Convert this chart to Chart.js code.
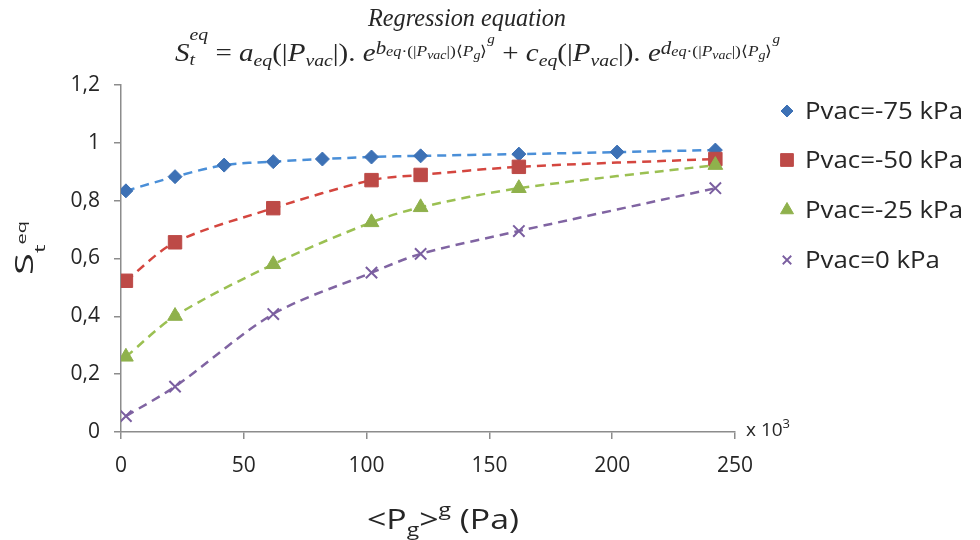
<!DOCTYPE html>
<html lang="en">
<head>
    <meta charset="UTF-8">
    <title>Saturation vs gas pressure</title>
    <script src="https://cdn.jsdelivr.net/npm/chart.js"></script>
    <style>
        html, body { margin: 0; padding: 0; background: #fff; }
        canvas { display: block; }
    </style>
</head>
<body>
<canvas id="myChart" width="980" height="540"></canvas>

<script>
    // <Pg>^g in kPa (x 10^3 Pa) and equilibrium saturation values
    const pgFull = [2, 22, 42, 62, 82, 102, 122, 162, 202, 242];
    const pgPart = [2, 22, 62, 102, 122, 162, 242];

    const st75 = [0.834, 0.883, 0.923, 0.935, 0.944, 0.951, 0.955, 0.961, 0.968, 0.975];
    const st50 = [0.523, 0.656, 0.774, 0.871, 0.889, 0.917, 0.944];
    const st25 = [0.260, 0.401, 0.580, 0.725, 0.777, 0.843, 0.923];
    const st0  = [0.055, 0.157, 0.408, 0.551, 0.616, 0.695, 0.843];

    const seriesNames = ['Pvac=-75 kPa', 'Pvac=-50 kPa', 'Pvac=-25 kPa', 'Pvac=0 kPa'];
    const xTicks = [0, 50, 100, 150, 200, 250];
    const yTicks = [0, 0.2, 0.4, 0.6, 0.8, 1, 1.2];

    const FONT = '"Open Sans", sans-serif';
    const MATH = '"Liberation Serif", serif';
    const TEXT = '#262626';
    const AXIS = '#8c8c8c';

    const styles = [
        { marker: '#3d71b5', line: '#4a8fd8', pointStyle: 'rectRot', radius: 7, lr: 6 },
        { marker: '#bd4a47', line: '#d4463f', pointStyle: 'rect', radius: 9.5, lr: 9 },
        { marker: '#8fb14c', line: '#9bc052', pointStyle: 'triangle', radius: 8.5, lr: 7.5 },
        { marker: '#7a5ea0', line: '#8064a2', pointStyle: 'crossRot', radius: 8, lr: 6 }
    ];

    function pts(xs, ys) {
        return xs.map(function (x, i) { return { x: x, y: ys[i] }; });
    }

    const seriesData = [pts(pgFull, st75), pts(pgPart, st50), pts(pgPart, st25), pts(pgPart, st0)];

    const datasets = seriesData.map(function (d, i) {
        const s = styles[i];
        return {
            label: seriesNames[i],
            data: d,
            showLine: true,
            tension: 0.3,
            borderColor: s.line,
            borderWidth: 2.5,
            borderDash: [9, 6],
            pointStyle: s.pointStyle,
            pointRadius: s.radius,
            pointBackgroundColor: s.marker,
            pointBorderColor: s.marker,
            pointBorderWidth: s.pointStyle === 'crossRot' ? 2 : 1,
            order: 4 - i
        };
    });

    // text runs with sub/superscripts; "stack" puts a run over the previous one
    function runFont(r) {
        return (r.it ? 'italic ' : '') + r.s + 'px ' + r.f;
    }

    function richWidth(ctx, runs) {
        let pos = 0, prevStart = 0;
        runs.forEach(function (r) {
            ctx.font = runFont(r);
            const start = r.stack ? prevStart : pos;
            const end = start + ctx.measureText(r.t).width;
            pos = r.stack ? Math.max(pos, end) : end;
            prevStart = start;
        });
        return pos;
    }

    function drawRich(ctx, runs, x, y) {
        let pos = 0, prevStart = 0;
        ctx.textBaseline = 'alphabetic';
        ctx.textAlign = 'left';
        runs.forEach(function (r) {
            ctx.font = runFont(r);
            const start = r.stack ? prevStart : pos;
            ctx.fillText(r.t, x + start, y + (r.dy || 0));
            const end = start + ctx.measureText(r.t).width;
            pos = r.stack ? Math.max(pos, end) : end;
            prevStart = start;
        });
    }

    // draws runs from x0 to x1, stretched horizontally to that span
    function drawFitted(ctx, runs, x0, x1, y) {
        const w = richWidth(ctx, runs);
        ctx.save();
        ctx.translate(x0, y);
        ctx.scale((x1 - x0) / w, 1);
        drawRich(ctx, runs, 0, 0);
        ctx.restore();
    }

    function m(t, s, dy, it, stack) {
        return { t: t, s: s, dy: dy, it: it !== false, f: MATH, stack: !!stack };
    }

    // exponent b_eq.(|Pvac|)<Pg>^g  (letter is b or d)
    function exponent(letter) {
        return [
            m(letter, 18, -7),
            m('eq', 14, -5),
            m('·(|', 15, -5, false),
            m('P', 15, -5),
            m('vac', 12, -2),
            m('|)⟨', 15, -5, false),
            m('P', 15, -5),
            m('g', 12, -2),
            m('⟩', 15, -5, false),
            m('g', 13, -18)
        ];
    }

    function factor(letter) {
        return [m(letter, 25, 0), m('eq', 17, 5), m('(|', 25, 0, false), m('P', 25, 0), m('vac', 17, 5),
                m('|). ', 25, 0, false), m('e', 25, 0)];
    }

    const equation = [].concat(
        [m('S', 25, 0), m('t', 17, 4), m('eq', 17, -21, true, true), m(' = ', 25, 0, false)],
        factor('a'),
        exponent('b'),
        [m(' + ', 25, 0, false)],
        factor('c'),
        exponent('d')
    );

    const decorations = {
        id: 'decorations',
        afterDraw: function (chart) {
            const ctx = chart.ctx;
            const area = chart.chartArea;
            ctx.save();
            ctx.fillStyle = TEXT;

            // heading and regression formula
            drawFitted(ctx, [m('Regression equation', 26, 0)], 368, 566, 26);
            drawFitted(ctx, equation, 175, 780, 61);

            // y axis title S_t^eq, rotated
            const yTitle = [
                { t: 'S', s: 40, f: FONT },
                { t: 't', s: 24, dy: 19, f: FONT },
                { t: 'eq', s: 20, dy: -11, f: FONT }
            ];
            ctx.save();
            ctx.translate(33, 275);
            ctx.rotate(-Math.PI / 2);
            ctx.scale(1, 0.63);
            drawRich(ctx, yTitle, 0, 0);
            ctx.restore();

            // x axis title <Pg>^g (Pa)
            drawFitted(ctx, [
                { t: '<P', s: 28, f: FONT },
                { t: 'g', s: 19, dy: 7, f: FONT },
                { t: '>', s: 28, f: FONT },
                { t: 'g', s: 19, dy: -13, f: FONT },
                { t: ' (Pa)', s: 28, f: FONT }
            ], 367, 519, 529);

            // axis multiplier
            drawRich(ctx, [
                { t: 'x 10', s: 19, f: FONT },
                { t: '3', s: 13, dy: -8, f: FONT }
            ], area.right + 11, area.bottom + 4);

            // legend
            const rowY = [111, 160, 210, 260];
            ctx.font = '24px ' + FONT;
            const legScale = 158 / ctx.measureText(seriesNames[0]).width;
            seriesNames.forEach(function (name, i) {
                const s = styles[i];
                ctx.fillStyle = s.marker;
                ctx.strokeStyle = s.marker;
                ctx.lineWidth = s.pointStyle === 'crossRot' ? 1.8 : 1;
                Chart.helpers.drawPoint(ctx, { pointStyle: s.pointStyle, radius: s.lr, rotation: 0, borderWidth: ctx.lineWidth }, 787, rowY[i]);
                ctx.fillStyle = TEXT;
                ctx.save();
                ctx.translate(805, rowY[i] + 1);
                ctx.scale(legScale, 1);
                ctx.font = '24px ' + FONT;
                ctx.textAlign = 'left';
                ctx.textBaseline = 'middle';
                ctx.fillText(name, 0, 0);
                ctx.restore();
            });
            ctx.restore();
        }
    };

    new Chart(document.getElementById('myChart'), {
        type: 'scatter',
        data: { datasets: datasets },
        options: {
            responsive: false,
            animation: false,
            layout: { padding: { left: 0, right: 245, top: 85, bottom: 0 } },
            plugins: {
                legend: { display: false },
                title: { display: false },
                tooltip: { enabled: false }
            },
            scales: {
                x: {
                    type: 'linear',
                    min: 0,
                    max: 250,
                    afterBuildTicks: function (s) { s.ticks = xTicks.map(function (v) { return { value: v }; }); },
                    ticks: { color: TEXT, font: { family: FONT, size: 21 }, padding: 14, maxRotation: 0 },
                    grid: { drawOnChartArea: false, tickLength: 7, color: AXIS, lineWidth: 1.5 },
                    border: { color: AXIS, width: 1.5 },
                    afterFit: function (s) { s.height = 108; }
                },
                y: {
                    min: 0,
                    max: 1.2,
                    afterBuildTicks: function (s) { s.ticks = yTicks.map(function (v) { return { value: v }; }); },
                    ticks: {
                        color: TEXT,
                        font: { family: FONT, size: 21 },
                        padding: 14,
                        callback: function (v) { return String(Math.round(v * 10) / 10).replace('.', ','); }
                    },
                    grid: { drawOnChartArea: false, tickLength: 7, color: AXIS, lineWidth: 1.5 },
                    border: { color: AXIS, width: 1.5 },
                    afterFit: function (s) { s.width = 121; }
                }
            }
        },
        plugins: [decorations]
    });
</script>
</body>
</html>
